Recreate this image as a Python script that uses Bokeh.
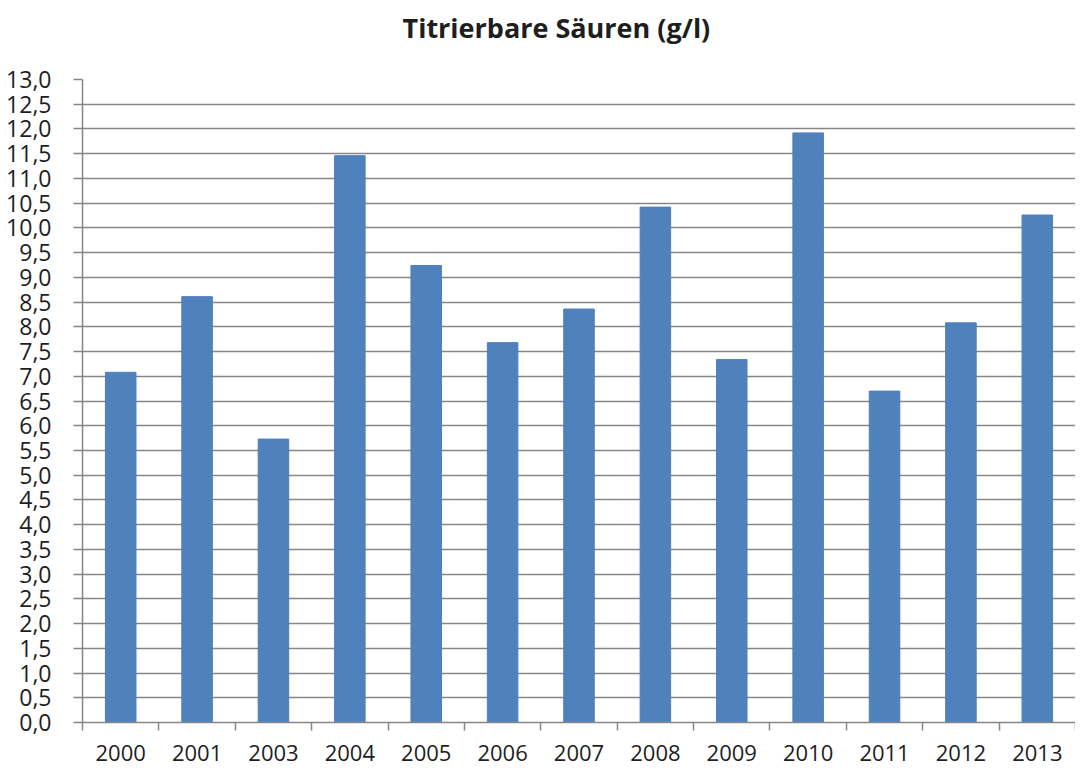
from bokeh.plotting import figure
from bokeh.models import Range1d, FixedTicker, CustomJSTickFormatter, Title
from bokeh.embed import file_html
from bokeh.resources import INLINE

# Data
years = ["2000", "2001", "2003", "2004", "2005", "2006", "2007",
         "2008", "2009", "2010", "2011", "2012", "2013"]
acid = [7.08, 8.61, 5.73, 11.46, 9.24, 7.68, 8.36,
        10.42, 7.34, 11.92, 6.70, 8.08, 10.26]
title_text = "Titrierbare Säuren (g/l)"
y_max = 13.0
y_step = 0.5

FONT = "Open Sans"
GRAY = "#868686"
BAR = "#4F81BD"
TXT = "#1e1e1e"

n = len(years)
xs = [i + 0.5 for i in range(n)]

p = figure(width=1075, height=765, output_backend="svg", toolbar_location=None,
           x_range=Range1d(0, n), y_range=Range1d(0, y_max),
           min_border_left=82, min_border_right=0, min_border_top=79,
           min_border_bottom=43)
p.title = None
spacer = Title(text=" ", text_font_size="1px", standoff=31)
p.add_layout(spacer, "above")
t = Title(text=title_text, align="left", offset=320,
          text_font=FONT, text_font_size="27px", text_font_style="bold",
          text_color=TXT, standoff=0)
p.add_layout(t, "above")

p.vbar(x=xs, top=acid, width=0.4, color=BAR, line_color=BAR)

p.outline_line_color = None
p.background_fill_color = "white"
p.border_fill_color = "white"

# y axis
yticks = [i * y_step for i in range(int(y_max / y_step) + 1)]
p.yaxis.ticker = FixedTicker(ticks=yticks)
p.yaxis.formatter = CustomJSTickFormatter(code="return tick.toFixed(1).replace('.', ',');")
p.yaxis.axis_line_color = GRAY
p.yaxis.axis_line_width = 1.5
p.yaxis.major_tick_line_color = GRAY
p.yaxis.major_tick_line_width = 1.5
p.yaxis.major_tick_out = 9
p.yaxis.major_tick_in = 0
p.yaxis.minor_tick_line_color = None
p.yaxis.major_label_standoff = 22
p.yaxis.major_label_text_font = FONT
p.yaxis.major_label_text_font_size = "23px"
p.yaxis.major_label_text_color = TXT

# x axis
p.xaxis.ticker = FixedTicker(ticks=xs, minor_ticks=list(range(n + 1)))
p.xaxis.formatter = CustomJSTickFormatter(args=dict(labels=years),
                                          code="return labels[Math.floor(tick)];")
p.xaxis.axis_line_color = GRAY
p.xaxis.axis_line_width = 1.5
p.xaxis.major_tick_line_color = None
p.xaxis.major_tick_out = 0
p.xaxis.major_tick_in = 0
p.xaxis.minor_tick_line_color = GRAY
p.xaxis.minor_tick_line_width = 1.5
p.xaxis.minor_tick_out = 8
p.xaxis.minor_tick_in = 0
p.xaxis.major_label_standoff = 14
p.xaxis.major_label_text_font = FONT
p.xaxis.major_label_text_font_size = "22px"
p.xaxis.major_label_text_color = TXT

p.xgrid.grid_line_color = None
p.ygrid.ticker = FixedTicker(ticks=yticks)
p.ygrid.grid_line_color = GRAY
p.ygrid.grid_line_width = 1.5

open("out.html", "w").write(file_html(p, INLINE))
